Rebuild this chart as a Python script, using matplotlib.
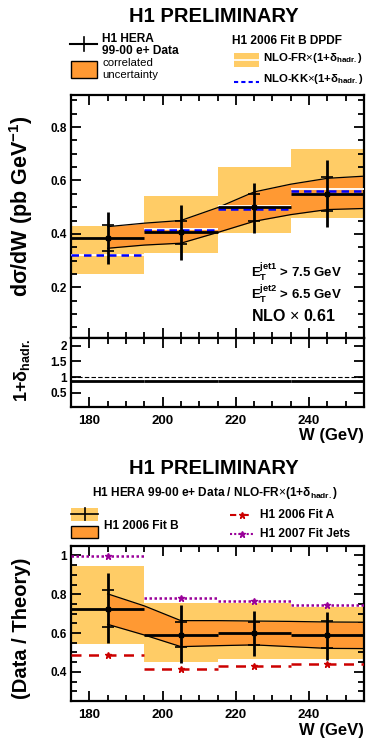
import numpy as np
import matplotlib
matplotlib.use('Agg')
import matplotlib.pyplot as plt
from matplotlib.patches import Rectangle
from matplotlib.lines import Line2D
from matplotlib.ticker import MultipleLocator

plt.rcParams['font.family'] = ['Liberation Sans', 'DejaVu Sans']
plt.rcParams['mathtext.fontset'] = 'custom'
plt.rcParams['mathtext.rm'] = 'Liberation Sans'
plt.rcParams['mathtext.bf'] = 'Liberation Sans:bold'
plt.rcParams['mathtext.it'] = 'Liberation Sans:italic'

# ---- data ----
w_edges = [175, 195, 215, 235, 255]
w_centers = [185, 205, 225, 245]

# top panel: d sigma / dW
xs_data = [0.384, 0.406, 0.501, 0.550]
xs_tot_lo = [0.288, 0.303, 0.402, 0.427]
xs_tot_hi = [0.480, 0.509, 0.590, 0.676]
xs_stat_lo = [0.334, 0.361, 0.449, 0.487]
xs_stat_hi = [0.433, 0.449, 0.548, 0.614]
corr_w = [185, 195, 205, 215, 225, 235, 245, 255]
xs_corr_lo = [0.346, 0.358, 0.365, 0.405, 0.447, 0.472, 0.491, 0.495]
xs_corr_hi = [0.427, 0.440, 0.450, 0.498, 0.557, 0.586, 0.608, 0.616]
fr_lo = [0.251, 0.329, 0.402, 0.458]
fr_hi = [0.429, 0.543, 0.650, 0.717]
fr_central = [0.322, 0.418, 0.503, 0.569]
kk_central = [0.319, 0.413, 0.494, 0.560]

# hadronisation corrections
hadr = [0.86, 0.86, 0.88, 0.88]

# bottom panel: data / theory
r_data = [0.725, 0.592, 0.599, 0.592]
r_tot_lo = [0.547, 0.444, 0.482, 0.461]
r_tot_hi = [0.909, 0.744, 0.714, 0.711]
r_stat_lo = [0.630, 0.530, 0.539, 0.523]
r_stat_hi = [0.821, 0.656, 0.659, 0.661]
r_corr_lo = [0.645, 0.590, 0.530, 0.535, 0.539, 0.530, 0.521, 0.520]
r_corr_hi = [0.802, 0.740, 0.664, 0.664, 0.662, 0.660, 0.657, 0.656]
fitb_lo = [0.544, 0.452, 0.466, 0.466]
fitb_hi = [0.943, 0.757, 0.757, 0.736]
fita = [0.487, 0.413, 0.430, 0.439]
fitjets = [0.995, 0.783, 0.767, 0.742]

LIGHT = '#ffcc66'
DARK = '#ff9933'
BLUE = '#0000ff'
RED = '#cc0000'
PURPLE = '#990099'

W, H = 375, 751


def fx(px):
    return px / W


def fy(py):
    return 1 - py / H


def style_axes(ax, ymajor, yminor, xlabels=True):
    ax.set_xlim(175, 255)
    ax.xaxis.set_major_locator(MultipleLocator(20))
    ax.xaxis.set_minor_locator(MultipleLocator(5))
    ax.yaxis.set_major_locator(MultipleLocator(ymajor))
    ax.yaxis.set_minor_locator(MultipleLocator(yminor))
    ax.tick_params(which='both', direction='in', top=True, right=True, width=1.3)
    ax.tick_params(which='major', length=7)
    ax.tick_params(which='minor', length=4)
    ax.tick_params(axis='x', labelsize=9.5, pad=6)
    ax.tick_params(axis='y', labelsize=8.5, pad=3)
    if not xlabels:
        ax.tick_params(axis='x', labelbottom=False)
    for lab in ax.get_xticklabels() + ax.get_yticklabels():
        lab.set_fontweight('bold')
    for s in ax.spines.values():
        s.set_linewidth(1.6)


def draw_data(ax, vals, tlo, thi, slo, shi):
    vals = np.array(vals)
    ax.errorbar(w_centers, vals, xerr=10,
                yerr=[vals - np.array(tlo), np.array(thi) - vals],
                fmt='s', ms=2.5, color='black', elinewidth=2, capsize=0, zorder=6)
    ax.errorbar(w_centers, vals,
                yerr=[vals - np.array(slo), np.array(shi) - vals],
                fmt='none', ecolor='black', elinewidth=0, capsize=4, capthick=1.2, zorder=6)


fig = plt.figure(figsize=(3.75, 7.51), dpi=100)

# ---------- top panel ----------
ax1 = fig.add_axes([fx(71), fy(338), fx(293), 243 / H])
ax1.bar(w_centers, np.array(fr_hi) - np.array(fr_lo), bottom=fr_lo, width=20,
        color=LIGHT, linewidth=0, zorder=1)
ax1.fill_between(corr_w, xs_corr_lo, xs_corr_hi, color=DARK, linewidth=0, zorder=2)
ax1.plot(corr_w, xs_corr_lo, color='black', lw=0.9, zorder=3)
ax1.plot(corr_w, xs_corr_hi, color='black', lw=0.9, zorder=3)
ax1.hlines(fr_central, w_edges[:-1], w_edges[1:], colors='white', lw=1.3, zorder=4)
ax1.hlines(kk_central, w_edges[:-1], w_edges[1:], colors=BLUE, lw=1.8,
           linestyles=(0, (3, 2)), zorder=5)
draw_data(ax1, xs_data, xs_tot_lo, xs_tot_hi, xs_stat_lo, xs_stat_hi)
ax1.set_ylim(0.01, 0.92)
style_axes(ax1, 0.2, 0.05, xlabels=False)
ax1.set_yticks([0.2, 0.4, 0.6, 0.8])
ax1.set_yticklabels(['0.2', '0.4', '0.6', '0.8'], fontweight='bold')

ax1.text(0.615, 0.27, r'$\mathbf{E_T^{jet1}}$ > 7.5 GeV', transform=ax1.transAxes,
         fontsize=9.5, fontweight='bold', va='center')
ax1.text(0.615, 0.18, r'$\mathbf{E_T^{jet2}}$ > 6.5 GeV', transform=ax1.transAxes,
         fontsize=9.5, fontweight='bold', va='center')
ax1.text(0.615, 0.09, r'NLO $\times$ 0.61', transform=ax1.transAxes,
         fontsize=11.5, fontweight='bold', va='center')

# ---------- hadronisation panel ----------
ax2 = fig.add_axes([fx(71), fy(406.7), fx(293), 68.7 / H])
ax2.axhline(1, color='black', lw=0.8, ls=(0, (4, 2)))
ax2.hlines(hadr, w_edges[:-1], w_edges[1:], colors='black', lw=2)
ax2.set_ylim(0.05, 2.25)
style_axes(ax2, 0.5, 0.5)
ax2.set_yticks([0.5, 1, 1.5, 2])
ax2.set_yticklabels(['0.5', '1', '1.5', '2'], fontweight='bold')
ax2.tick_params(axis='y', which='minor', length=0)
ax2.set_xlabel('W (GeV)', fontsize=12, fontweight='bold', loc='right', labelpad=1)

# ---------- bottom panel ----------
ax3 = fig.add_axes([fx(71), fy(701), fx(293), 155.3 / H])
ax3.bar(w_centers, np.array(fitb_hi) - np.array(fitb_lo), bottom=fitb_lo, width=20,
        color=LIGHT, linewidth=0, zorder=1)
ax3.fill_between(corr_w, r_corr_lo, r_corr_hi, color=DARK, linewidth=0, zorder=2)
ax3.plot(corr_w, r_corr_lo, color='black', lw=0.9, zorder=3)
ax3.plot(corr_w, r_corr_hi, color='black', lw=0.9, zorder=3)
ax3.hlines(fita, w_edges[:-1], w_edges[1:], colors=RED, lw=1.8,
           linestyles=(0, (4, 3)), zorder=4)
ax3.plot(w_centers, fita, ls='none', marker='*', ms=5, color=RED, zorder=4)
ax3.hlines(fitjets, w_edges[:-1], w_edges[1:], colors=PURPLE, lw=1.8,
           linestyles=(0, (1, 1)), zorder=4)
ax3.plot(w_centers, fitjets, ls='none', marker='*', ms=5, color=PURPLE, zorder=4)
draw_data(ax3, r_data, r_tot_lo, r_tot_hi, r_stat_lo, r_stat_hi)
ax3.set_ylim(0.25, 1.05)
style_axes(ax3, 0.2, 0.05)
ax3.set_yticks([0.4, 0.6, 0.8, 1.0])
ax3.set_yticklabels(['0.4', '0.6', '0.8', '1'], fontweight='bold')
ax3.set_xlabel('W (GeV)', fontsize=12, fontweight='bold', loc='right', labelpad=1)

# ---------- titles, axis labels ----------
fig.text(fx(214), fy(16), 'H1 PRELIMINARY', ha='center', va='center',
         fontsize=14.5, fontweight='bold')
fig.text(fx(214), fy(468), 'H1 PRELIMINARY', ha='center', va='center',
         fontsize=14.5, fontweight='bold')
fig.text(fx(21), fy(206), r'd$\mathbf{\sigma}$/dW (pb GeV$^{\mathbf{-1}}$)', rotation=90,
         ha='center', va='center', fontsize=15.5, fontweight='bold')
fig.text(fx(22), fy(370), r'1+$\mathbf{\delta_{hadr.}}$', rotation=90,
         ha='center', va='center', fontsize=13, fontweight='bold')
fig.text(fx(22), fy(628), '(Data / Theory)', rotation=90,
         ha='center', va='center', fontsize=14.5, fontweight='bold')

# ---------- legend top ----------
fig.add_artist(Line2D([fx(70), fx(97)], [fy(44), fy(44)], color='black', lw=1.5,
                      transform=fig.transFigure))
fig.add_artist(Line2D([fx(83.5), fx(83.5)], [fy(37), fy(51)], color='black', lw=1.2,
                      transform=fig.transFigure))
fig.text(fx(102), fy(38.5), 'H1 HERA', fontsize=8.6, fontweight='bold', va='center')
fig.text(fx(102), fy(51), '99-00 e+ Data', fontsize=8.6, fontweight='bold', va='center')
fig.add_artist(Rectangle((fx(71), fy(78)), fx(26), 17 / H, facecolor=DARK,
                         edgecolor='black', lw=1, transform=fig.transFigure))
fig.text(fx(102), fy(63), 'correlated', fontsize=8.2, va='center')
fig.text(fx(102), fy(74.5), 'uncertainty', fontsize=8.2, va='center')

fig.text(fx(232), fy(41), 'H1 2006 Fit B DPDF', fontsize=8.6, fontweight='bold', va='center')
fig.add_artist(Rectangle((fx(234), fy(67)), fx(25), 14 / H, facecolor=LIGHT,
                         edgecolor='none', transform=fig.transFigure))
fig.add_artist(Line2D([fx(234), fx(259)], [fy(60), fy(60)], color='white', lw=1.2,
                      transform=fig.transFigure))
fig.text(fx(263), fy(58), r'NLO-FR$\times$(1+$\mathbf{\delta_{hadr.}}$)', fontsize=8.2,
         fontweight='bold', va='center')
fig.add_artist(Line2D([fx(234), fx(259)], [fy(82), fy(82)], color=BLUE, lw=1.5,
                      ls=(0, (2, 1.5)), transform=fig.transFigure))
fig.text(fx(263), fy(79), r'NLO-KK$\times$(1+$\mathbf{\delta_{hadr.}}$)', fontsize=8.2,
         fontweight='bold', va='center')

# ---------- legend bottom ----------
fig.text(fx(215), fy(493), r'H1 HERA 99-00 e+ Data / NLO-FR$\times$(1+$\mathbf{\delta_{hadr.}}$)',
         ha='center', va='center', fontsize=8.6, fontweight='bold')
fig.add_artist(Rectangle((fx(71), fy(520.5)), fx(27), 13 / H, facecolor=LIGHT,
                         edgecolor='none', transform=fig.transFigure))
fig.add_artist(Line2D([fx(71), fx(98)], [fy(514), fy(514)], color='black', lw=1.2,
                      transform=fig.transFigure))
fig.add_artist(Line2D([fx(84.5), fx(84.5)], [fy(508), fy(520)], color='black', lw=1.2,
                      transform=fig.transFigure))
fig.add_artist(Rectangle((fx(71), fy(538)), fx(27), 12 / H, facecolor=DARK,
                         edgecolor='black', lw=1, transform=fig.transFigure))
fig.text(fx(104), fy(526), 'H1 2006 Fit B', fontsize=8.6, fontweight='bold', va='center')
fig.add_artist(Line2D([fx(230), fx(255)], [fy(515), fy(515)], color=RED, lw=1.5,
                      ls=(0, (3, 3)), transform=fig.transFigure))
fig.add_artist(Line2D([fx(242.5)], [fy(515)], color=RED, marker='*', ms=5,
                      transform=fig.transFigure))
fig.text(fx(260), fy(515), 'H1 2006 Fit A', fontsize=8.6, fontweight='bold', va='center')
fig.add_artist(Line2D([fx(230), fx(255)], [fy(534), fy(534)], color=PURPLE, lw=1.5,
                      ls=(0, (1, 1)), transform=fig.transFigure))
fig.add_artist(Line2D([fx(242.5)], [fy(534)], color=PURPLE, marker='*', ms=5,
                      transform=fig.transFigure))
fig.text(fx(260), fy(534), 'H1 2007 Fit Jets', fontsize=8.6, fontweight='bold', va='center')

fig.savefig('out.png', dpi=100)
